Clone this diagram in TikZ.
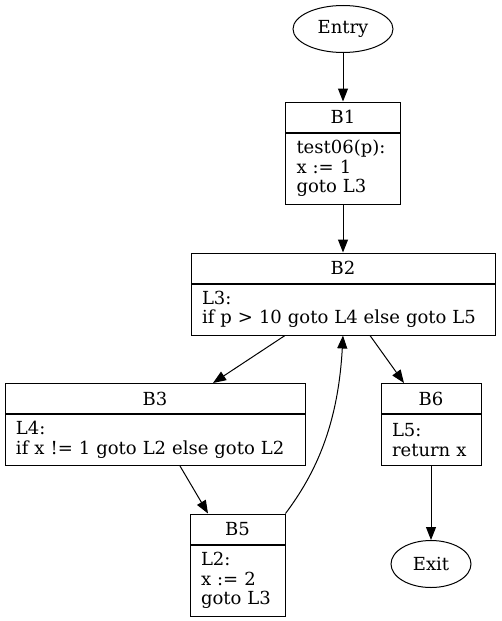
\documentclass[tikz,border=0pt]{standalone}
\usepackage{fontspec}
\setmainfont{DejaVu Serif}
\usetikzlibrary{shapes.geometric}
\usetikzlibrary{positioning}
\usetikzlibrary{arrows.meta}

\tikzset{
  hdr/.style={draw, line width=1pt, minimum width=#1, minimum height=30pt, inner sep=0pt},
  bdy/.style={draw, line width=1pt, text width=#1, align=left, inner xsep=11pt, inner ysep=0pt},
  term/.style={draw, line width=1pt, ellipse, minimum height=47pt, inner sep=0pt},
  edge/.style={line width=1pt, -{Triangle[length=13pt,width=10pt]}}
}

\begin{document}
\begin{tikzpicture}[x=1pt,y=-1pt,font=\fontsize{18pt}{19.5pt}\selectfont]
  \useasboundingbox (0,0) rectangle (501,621);

  \node (ent) [term, minimum width=100pt] at (343,29) {Entry};

  \node (b1h) [hdr=115pt] at (343,117) {B1};
  \node (b1b) [bdy=93pt, minimum height=71pt, below=0pt of b1h]
    {test06(p):\\x := 1\\goto L3};

  \node (b2h) [hdr=304pt] at (343,268) {B2};
  \node (b2b) [bdy=282pt, minimum height=51pt, below=0pt of b2h]
    {L3:\\if p > 10 goto L4 else goto L5};

  \node (b3h) [hdr=300pt] at (155,398.5) {B3};
  \node (b3b) [bdy=278pt, minimum height=51pt, below=0pt of b3h]
    {L4:\\if x != 1 goto L2 else goto L2};

  \node (b6h) [hdr=100pt] at (431,398.5) {B6};
  \node (b6b) [bdy=78pt, minimum height=51pt, below=0pt of b6h]
    {L5:\\return x};

  \node (b5h) [hdr=95pt] at (237.5,529) {B5};
  \node (b5b) [bdy=73pt, minimum height=71pt, below=0pt of b5h]
    {L2:\\x := 2\\goto L3};

  \node (ext) [term, minimum width=80pt] at (431,564) {Exit};

  % control flow
  \draw[edge] (ent) -- (b1h);
  \draw[edge] (b1b) -- (b2h);
  \draw[edge] ([xshift=-58pt]b2b.south) -- ([xshift=58pt]b3h.north);
  \draw[edge] ([xshift=27pt]b2b.south) -- ([xshift=-27pt]b6h.north);
  \draw[edge] ([xshift=25pt]b3b.south) -- ([xshift=-29.5pt]b5h.north);
  \draw[edge] (b5h.north east) .. controls +(30,-40) and +(-5,90) .. (b2b.south);
  \draw[edge] (b6b) -- (ext);
\end{tikzpicture}
\end{document}
